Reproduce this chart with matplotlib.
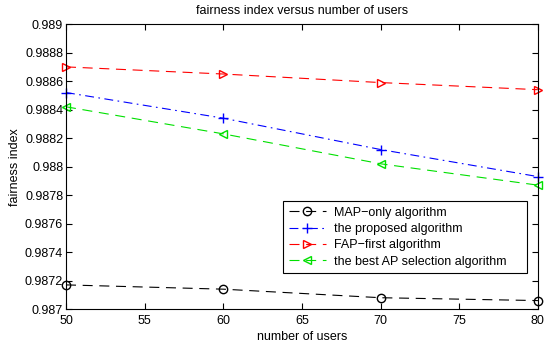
import matplotlib
matplotlib.use('Agg')
from matplotlib import pyplot as plt

plt.rcParams['font.family'] = ['Liberation Sans', 'DejaVu Sans']

users = [50, 60, 70, 80]
map_only = [0.98717, 0.98714, 0.98708, 0.98706]
proposed = [0.98852, 0.98834, 0.98812, 0.98793]
fap_first = [0.98870, 0.98865, 0.98859, 0.98854]
best_ap = [0.98842, 0.98823, 0.98802, 0.98787]

fig = plt.figure(figsize=(5.5, 3.45), dpi=100)
ax = fig.add_axes([0.12, 0.104, 0.858, 0.826])

dash = (9, 6)
ax.plot(users, map_only, 'k--o', mfc='none', ms=6, lw=0.8, dashes=dash, clip_on=False, label='MAP\u2212only algorithm')
ax.plot(users, proposed, 'b-.+', ms=7, lw=0.8, dashes=(8, 4, 1.5, 4), clip_on=False, label='the proposed algorithm')
ax.plot(users, fap_first, '--', color='r', marker='>', mfc='none', ms=6, lw=0.8, dashes=dash, clip_on=False, label='FAP\u2212first algorithm')
ax.plot(users, best_ap, '--', color='#00e000', marker='<', mfc='none', ms=6, lw=0.8, dashes=dash, clip_on=False, label='the best AP selection algorithm')

ax.set_xlim(50, 80)
ax.set_ylim(0.987, 0.989)
ax.set_xticks(range(50, 81, 5))
yt = [0.987, 0.9872, 0.9874, 0.9876, 0.9878, 0.988, 0.9882, 0.9884, 0.9886, 0.9888, 0.989]
ax.set_yticks(yt)
ax.set_yticklabels(['%g' % v for v in yt])
ax.tick_params(direction='in', top=True, right=True, labelsize=9, length=4, pad=2)
ax.tick_params(axis='x', pad=4)
for s in ax.spines.values():
    s.set_linewidth(0.8)

ax.set_xlabel('number of users', fontsize=9, labelpad=3)
ax.set_ylabel('fairness index', fontsize=9, labelpad=3)
ax.set_title('fairness index versus number of users', fontsize=9, pad=7)

leg = ax.legend(loc='lower left', bbox_to_anchor=(0.46, 0.125, 0.517, 0.255), mode='expand',
                borderaxespad=0, fontsize=9, fancybox=False, edgecolor='k', framealpha=1,
                handlelength=3.0, borderpad=0.45, labelspacing=0.35, handletextpad=0.65)
leg.get_frame().set_linewidth(0.8)

plt.savefig('out.png')
